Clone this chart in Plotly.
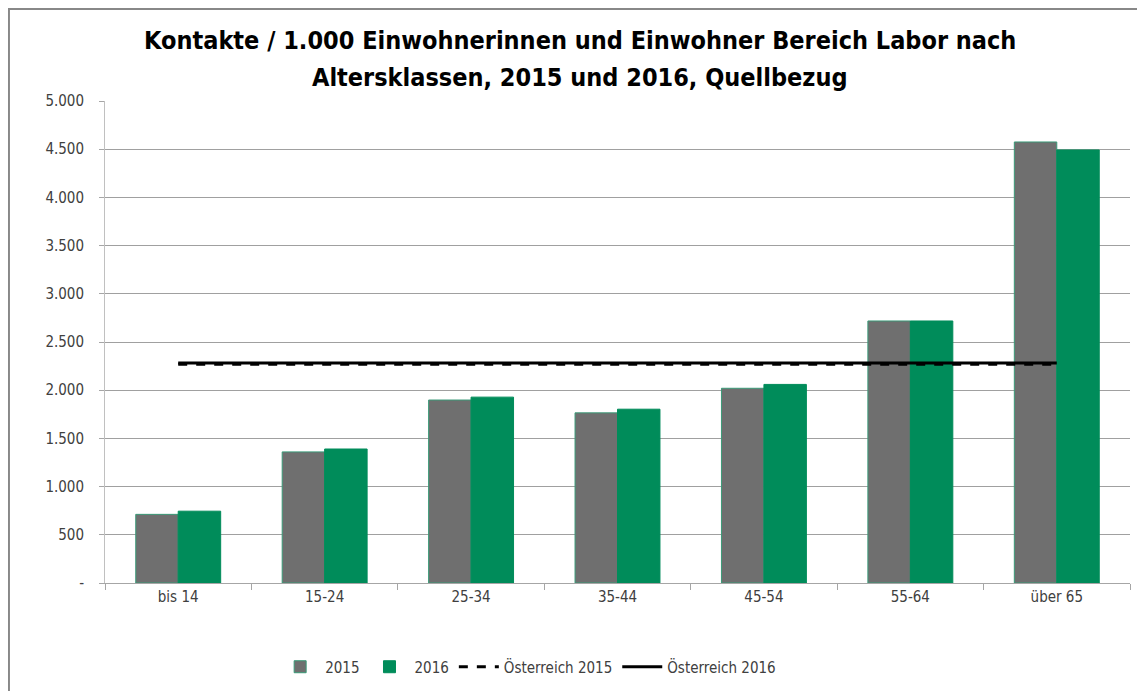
import plotly.graph_objects as go

categories = ["bis 14", "15-24", "25-34", "35-44", "45-54", "55-64", "über 65"]
values_2015 = [712, 1360, 1898, 1765, 2020, 2718, 4575]
values_2016 = [745, 1390, 1928, 1803, 2060, 2718, 4492]
austria_2015 = [2268] * len(categories)
austria_2016 = [2282] * len(categories)
tick_vals = [0, 500, 1000, 1500, 2000, 2500, 3000, 3500, 4000, 4500, 5000]
tick_text = ["-", "500", "1.000", "1.500", "2.000", "2.500", "3.000", "3.500", "4.000", "4.500", "5.000"]
title_lines = ["Kontakte / 1.000 Einwohnerinnen und Einwohner Bereich Labor nach",
               "Altersklassen, 2015 und 2016, Quellbezug"]

FONT = "DejaVu Sans Condensed, Liberation Sans, sans-serif"
GRAY = "#6f6f6f"
GREEN = "#008c5a"

fig = go.Figure()
fig.add_trace(go.Bar(x=categories, y=values_2015, name="2015",
                     marker=dict(color=GRAY, line=dict(color="#3a9a78", width=1))))
fig.add_trace(go.Bar(x=categories, y=values_2016, name="2016",
                     marker=dict(color=GREEN, line=dict(color=GREEN, width=1))))
fig.add_trace(go.Scatter(x=categories, y=austria_2015, name="Österreich 2015", mode="lines",
                         line=dict(color="black", width=3, dash="dash")))
fig.add_trace(go.Scatter(x=categories, y=austria_2016, name="Österreich 2016", mode="lines",
                         line=dict(color="black", width=3)))

PLOT_H = 691 - 93 - 116
for txt, ypx in zip(title_lines, [32, 70]):
    fig.add_annotation(text=f"<b>{txt}</b>", xref="paper", yref="paper",
                       x=0.4634, y=1 + (93 - ypx) / PLOT_H, xanchor="center", yanchor="middle",
                       showarrow=False, font=dict(family=FONT, size=25, color="black"))

fig.update_layout(
    width=1145, height=691,
    paper_bgcolor="white", plot_bgcolor="white",
    margin=dict(l=97, r=23, t=93, b=116),
    barmode="group", bargap=0.42, bargroupgap=0,
    font=dict(family=FONT, size=14, color="#404040"),
    legend=dict(orientation="h", x=0.166, xanchor="left", y=-0.14, yanchor="top",
                font=dict(family=FONT, size=15, color="#404040"), itemwidth=40,
                traceorder="normal"),
    xaxis=dict(showline=True, linecolor="#a6a6a6", linewidth=1, ticks="outside",
               tickson="boundaries", tickcolor="#a6a6a6", ticklen=6,
               tickfont=dict(family=FONT, size=15, color="#404040")),
    yaxis=dict(range=[0, 5000], tickvals=tick_vals, ticktext=tick_text,
               showline=True, linecolor="#c0c0c0", linewidth=1,
               showgrid=True, gridcolor="#a0a0a0", gridwidth=1,
               ticks="outside", tickcolor="#a6a6a6", ticklen=5, ticklabelstandoff=12,
               tickfont=dict(family=FONT, size=15, color="#404040")),
    shapes=[
        dict(type="line", xref="paper", yref="paper", x0=-0.1, x1=1.05, y0=1.191, y1=1.191,
             line=dict(color="#888888", width=2)),
        dict(type="line", xref="paper", yref="paper", x0=-0.0937, x1=-0.0937, y0=-0.3, y1=1.191,
             line=dict(color="#888888", width=2)),
    ],
)

fig.write_html("out.html")
